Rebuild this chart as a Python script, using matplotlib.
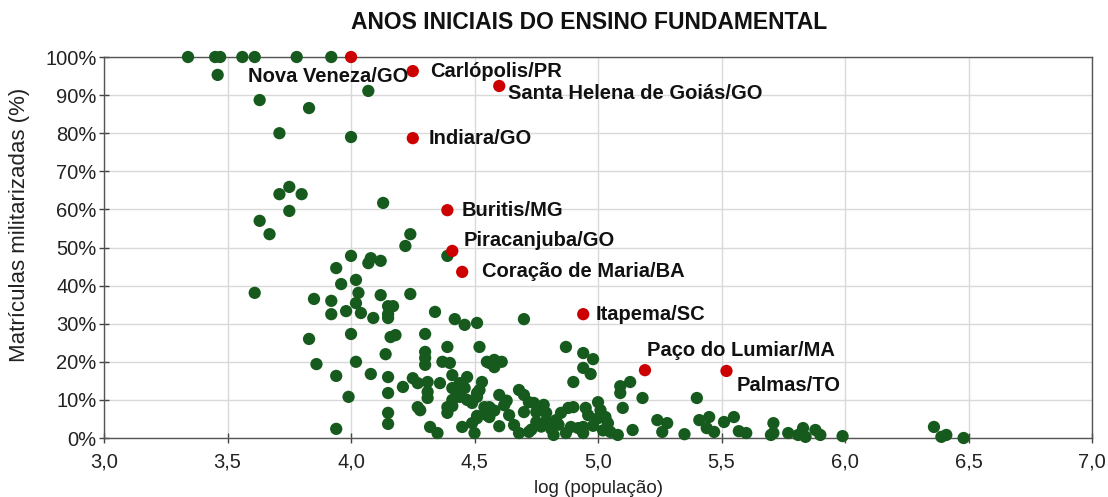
import matplotlib
matplotlib.use("Agg")
import matplotlib.pyplot as plt
from matplotlib.ticker import FuncFormatter

plt.rcParams['font.family'] = ['Liberation Sans', 'DejaVu Sans']

# --- data: log(population) and % militarized enrolments ---
green_x = [3.34, 3.45, 3.47, 3.56, 3.61, 3.78, 3.92,
           3.46, 4.07, 3.63, 3.83, 3.71, 4.00,
           3.75, 3.71, 3.80, 3.75, 3.63, 3.67, 4.13,
           4.24, 4.22, 4.39, 4.00, 3.94, 4.02, 3.96,
           4.08, 4.07, 4.12, 3.61, 4.03, 4.02, 3.85,
           3.92, 3.98, 3.92, 4.04, 4.09, 4.12, 4.15,
           4.17, 4.24, 4.34, 4.15, 4.15, 4.42, 4.46,
           4.51, 3.83, 4.00, 4.16, 4.18, 4.30, 4.39,
           4.14, 4.30, 4.30, 3.86, 4.02, 4.30, 4.37,
           4.40, 3.94, 4.08, 4.15, 4.25, 4.27, 4.21,
           4.15, 4.31, 4.36, 4.41, 4.44, 4.47, 4.31,
           4.31, 4.43, 4.41, 4.41, 3.99, 4.27, 4.28,
           4.15, 4.15, 3.94, 4.32, 4.35, 4.45, 4.49, 4.51,
           4.51, 4.49, 4.47, 4.46, 4.41, 4.39, 4.39, 4.44,
           4.52, 4.56, 4.58, 4.51, 4.54, 4.56, 4.50, 4.60, 4.60,
           4.70, 4.55, 4.58, 4.61, 4.87, 4.94, 4.98, 4.94,
           4.97, 4.90, 5.13, 5.09, 5.09, 5.18, 5.10,
           4.53, 4.52, 4.68, 4.70, 4.72, 4.74, 4.78, 4.79,
           4.75, 4.70, 4.64, 4.56, 4.55, 4.51, 4.68, 4.72, 4.82,
           4.85, 4.88, 4.90, 4.95, 4.96, 5.00, 5.01, 5.03, 5.00,
           5.04, 5.05, 5.08, 4.89, 4.92, 4.94, 4.87, 4.94, 5.14,
           5.24, 5.26, 5.28, 4.79, 4.75, 4.83,
           4.62, 4.66, 4.73, 4.77, 4.81, 4.84, 4.98, 5.02, 4.58, 4.63,
           5.35, 5.40, 5.41, 5.45, 5.44, 5.47, 5.51, 5.55, 5.57, 5.60,
           5.71, 5.71, 5.70, 5.77, 5.83, 5.81, 5.84, 5.88, 5.90, 5.99,
           6.36, 6.39, 6.41, 6.48]
green_y = [100, 100, 100, 100, 100, 100, 100,
           95.3, 91.1, 88.7, 86.6, 80.0, 79.0,
           65.9, 64.0, 64.0, 59.6, 57.0, 53.5, 61.7,
           53.5, 50.4, 47.8, 47.8, 44.6, 41.5, 40.4,
           47.2, 45.9, 46.5, 38.1, 38.1, 35.4, 36.5,
           36.0, 33.3, 32.5, 32.8, 31.5, 37.5, 34.6,
           34.6, 37.8, 33.1, 32.5, 31.5, 31.2, 29.7,
           30.2, 26.0, 27.3, 26.5, 27.0, 27.3, 23.9,
           22.0, 22.6, 21.0, 19.4, 20.0, 19.2, 20.0,
           19.7, 16.3, 16.8, 16.0, 15.7, 14.4, 13.4,
           11.8, 14.7, 14.4, 16.5, 14.4, 16.0, 12.1,
           10.5, 11.8, 10.0, 8.4, 10.8, 8.1, 7.3,
           6.6, 3.7, 2.4, 2.9, 1.3, 2.9, 3.9, 5.8,
           10.8, 9.2, 10.0, 13.1, 13.1, 6.6, 8.1, 10.8,
           23.9, 19.7, 18.6, 11.8, 8.1, 5.5, 1.3, 11.3, 3.1,
           31.2, 20.0, 20.5, 20.0, 23.9, 22.3, 20.7, 18.4,
           16.8, 14.7, 14.7, 13.6, 11.8, 10.5, 7.9,
           14.7, 12.6, 12.6, 11.3, 9.4, 9.2, 8.7, 6.6,
           6.8, 6.8, 6.0, 8.1, 6.0, 5.2, 1.3, 1.6, 0.8,
           6.6, 7.9, 8.1, 7.9, 6.0, 9.4, 7.3, 5.5, 5.2,
           3.9, 1.6, 0.8, 2.9, 2.6, 2.9, 1.3, 1.3, 2.1,
           4.7, 1.6, 3.9, 4.5, 4.2, 4.7,
           8.6, 3.4, 2.2, 3.0, 2.4, 3.5, 3.2, 2.0, 7.2, 9.8,
           1.0, 10.5, 4.7, 5.5, 2.6, 1.6, 4.2, 5.5, 1.8, 1.3,
           3.9, 1.3, 0.8, 1.3, 2.6, 0.8, 0.3, 2.1, 0.8, 0.5,
           2.9, 0.3, 0.8, 0.0]

red_names = ["Nova Veneza/GO", "Carlópolis/PR", "Santa Helena de Goiás/GO",
             "Indiara/GO", "Buritis/MG", "Piracanjuba/GO",
             "Coração de Maria/BA", "Itapema/SC", "Paço do Lumiar/MA", "Palmas/TO"]
red_x = [4.00, 4.25, 4.60, 4.25, 4.39, 4.41, 4.45, 4.94, 5.19, 5.52]
red_y = [100.0, 96.3, 92.4, 78.7, 59.8, 49.1, 43.6, 32.5, 17.8, 17.6]

# label offsets (pixels) relative to each red point
label_dx = [-103, 17, 9, 16, 14, 11, 20, 12, 2, 10]
label_dy = [-19, 0, -8, 0, 0, 10, 0, 0, 20, -15]

x_ticks = [3.0, 3.5, 4.0, 4.5, 5.0, 5.5, 6.0, 6.5, 7.0]
y_ticks = [0, 10, 20, 30, 40, 50, 60, 70, 80, 90, 100]

GREEN = "#165a1e"
RED = "#cc0000"

fig = plt.figure(figsize=(11.08, 4.97), dpi=100)
ax = fig.add_axes([0.0939, 0.1187, 0.8917, 0.7666])

ax.scatter(green_x, green_y, s=78, color=GREEN, edgecolors='none', zorder=3, clip_on=False)
ax.scatter(red_x, red_y, s=78, color=RED, edgecolors='none', zorder=4, clip_on=False)

for name, x, y, dx, dy in zip(red_names, red_x, red_y, label_dx, label_dy):
    ax.annotate(name, (x, y), xytext=(dx, dy), textcoords='offset pixels',
                ha='left', va='center', fontsize=14.5, fontweight='bold', color='#111111', zorder=5)

ax.set_xlim(3.0, 7.0)
ax.set_ylim(0, 100)
ax.set_xticks(x_ticks)
ax.set_yticks(y_ticks)
ax.xaxis.set_major_formatter(FuncFormatter(lambda v, p: f"{v:.1f}".replace('.', ',')))
ax.yaxis.set_major_formatter(FuncFormatter(lambda v, p: f"{v:.0f}%"))
ax.tick_params(axis='both', direction='inout', length=7, width=1, color='#444444',
               labelsize=14.5, labelcolor='#222222')
ax.tick_params(axis='y', pad=2)
ax.tick_params(axis='x', pad=7)

ax.grid(True, color='#d9d9d9', linewidth=1, zorder=0)
ax.set_axisbelow(True)
for sp in ax.spines.values():
    sp.set_color('#555555')
    sp.set_linewidth(1)

ax.set_xlabel("log (população)", fontsize=13.5, color='#222222', labelpad=6)
ax.set_ylabel("Matrículas militarizadas (%)", fontsize=16, color='#222222')
ax.yaxis.set_label_coords(-0.075, 0.56)
fig.text(0.532, 0.955, "ANOS INICIAIS DO ENSINO FUNDAMENTAL", ha='center', va='center',
         fontsize=16.5, fontweight='bold', color='#111111')

fig.savefig("out.png", dpi=100)
